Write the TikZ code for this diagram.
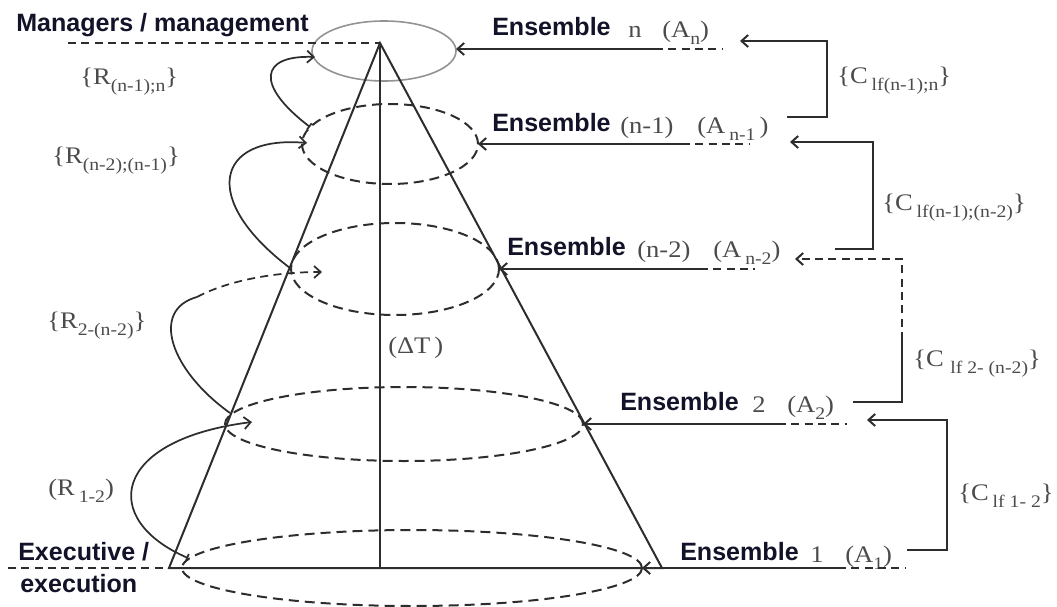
\documentclass[tikz,border=0pt]{standalone}
\usepackage{fontspec}
\usetikzlibrary{arrows.meta, shapes.geometric}
\newfontfamily\headfont{Liberation Sans}
\newfontfamily\lblfont[FakeStretch=1.12]{Liberation Serif}
\definecolor{inkline}{RGB}{45,45,45}
\definecolor{inktext}{RGB}{75,75,75}
\definecolor{inkhead}{RGB}{18,18,40}
\newcommand{\idx}[1]{\raisebox{-0.3em}{\fontsize{13.2}{13.2}\selectfont #1}}

\begin{document}
\begin{tikzpicture}[x=0.75pt, y=-0.75pt,
    lid/.style={ellipse, draw=gray!85, line width=1.2pt, inner sep=0pt, outer sep=0pt},
    ring/.style={ellipse, draw=inkline, line width=1.5pt, dash pattern=on 7.5pt off 4.5pt, inner sep=0pt, outer sep=0pt},
    edge/.style={draw=inkline, line width=1.5pt},
    tail/.style={draw=inkline, line width=1.5pt, dash pattern=on 6pt off 4pt},
    link/.style={draw=inkline, line width=1.5pt, -{Straight Barb[length=5pt,width=9pt]}},
    hook/.style={draw=inkline, line width=1.3pt, {Bar[width=6pt]}-{Straight Barb[length=5pt,width=9pt]}},
    head/.style={font=\headfont\bfseries\fontsize{18.8}{22}\selectfont, text=inkhead, inner sep=0pt, anchor=base west},
    lbl/.style={font=\lblfont\fontsize{17.8}{20}\selectfont, text=inktext, inner sep=0pt, anchor=base west}
]
\useasboundingbox (0,0) rectangle (1057,607);

\node[lid, minimum width=108pt, minimum height=45pt] (top) at (384,51) {};
\node[ring, minimum width=132pt, minimum height=60pt] (rn1) at (390,144) {};
\node[ring, minimum width=156pt, minimum height=69pt] (rn2) at (395,269) {};
\node[ring, minimum width=268.5pt, minimum height=55.5pt] (r2) at (404,424) {};
\node[ring, minimum width=345pt, minimum height=57pt] (r1) at (412,568) {};

\coordinate (apex) at (380,43);
\coordinate (bl) at (169,568);
\coordinate (br) at (662,568);
\coordinate (mgl) at (68,43);
\coordinate (exl) at (8,568);
\draw[edge] (bl) -- (apex) -- (br) -- cycle;
\draw[edge] (apex) -- (apex |- bl);
\draw[tail] (mgl) -- (apex);
\draw[tail] (exl) -- (bl);

\node[head] (mgmt) at (16,31) {Managers / management};
\node[head] (exec) at (18,560) {Executive /};
\node[head] (execb) at (20,592) {execution};

\node[head] (en) at (492,35) {Ensemble};
\node[lbl] (nn) at (628,37) {n};
\node[lbl] (an) at (662,37) {(A\idx{n})};
\node[head] (en1) at (492,131) {Ensemble};
\node[lbl] (nn1) at (620,133) {(n-1)};
\node[lbl] (an1) at (697,133) {(A\,\idx{n-1}\,)};
\node[head] (en2) at (507,255) {Ensemble};
\node[lbl] (nn2) at (637,257) {(n-2)};
\node[lbl] (an2) at (713,257) {(A\,\idx{n-2})};
\node[head] (e2) at (620,410) {Ensemble};
\node[lbl] (n2) at (752,412) {2};
\node[lbl] (a2) at (787,412) {(A\idx{2})};
\node[head] (e1) at (680,560) {Ensemble};
\node[lbl] (n1) at (810,562) {1};
\node[lbl] (a1) at (845,562) {(A\idx{1})};

\coordinate (sn) at (655,49);   \coordinate (dn) at (723,49);
\coordinate (sn1) at (682,144); \coordinate (dn1) at (750,144);
\coordinate (sn2) at (700,269); \coordinate (dn2) at (755,269);
\coordinate (s2) at (778,424);  \coordinate (d2) at (847,424);
\coordinate (s1) at (838,568);  \coordinate (d1) at (905,568);
\draw[link] (sn) -- (sn -| top.east);
\draw[link] (sn1) -- (sn1 -| rn1.east);
\draw[link] (sn2) -- (sn2 -| rn2.east);
\draw[link] (s2) -- (s2 -| r2.east);
\draw[link] (s1) -- (s1 -| r1.east);
\draw[tail] (sn) -- (dn);
\draw[tail] (sn1) -- (dn1);
\draw[tail] (sn2) -- (dn2);
\draw[tail] (s2) -- (d2);
\draw[tail] (s1) -- (d1);

\coordinate (ca) at (787,117); \coordinate (cat) at (740,41);
\coordinate (cb) at (835,249); \coordinate (cbt) at (790,142);
\coordinate (cc) at (853,402); \coordinate (cct) at (795,259);
\coordinate (cd) at (907,550); \coordinate (cdt) at (867,420);
\draw[link] (ca) -- ++(40,0) |- (cat);
\draw[link] (cb) -- ++(38,0) |- (cbt);
\draw[edge] (cc) -- ++(49,0) -- ++(0,-62) coordinate (ccd);
\draw[link, dash pattern=on 6pt off 4pt] (ccd) |- (cct);
\draw[link] (cd) -- ++(40,0) |- (cdt);

\node[lbl] (cl1) at (837,83) {\{C\,\idx{lf(n-1);n}\}};
\node[lbl] (cl2) at (882,210) {\{C\,\idx{lf(n-1);(n-2)}\}};
\node[lbl] (cl3) at (913,366) {\{C\;\idx{lf 2- (n-2)}\}};
\node[lbl] (cl4) at (958,500) {\{C\,\idx{lf 1- 2}\}};

\coordinate (ra0) at (310,127); \coordinate (ra1) at (315,57);
\coordinate (rb0) at (290,268); \coordinate (rb1) at (307,143);
\coordinate (rc0) at (230,413); \coordinate (rcm) at (197,297); \coordinate (rc1) at (322,272);
\coordinate (rd0) at (188,558); \coordinate (rd1) at (252,422);
\draw[hook] (ra0) .. controls (255,85) and (260,55) .. (ra1);
\draw[link, line width=1.3pt] (rb0) .. controls (200,200) and (215,135) .. (rb1);
\draw[edge, line width=1.3pt] (rc0) .. controls (170,370) and (150,310) .. (rcm);
\draw[link, line width=1.3pt, dash pattern=on 6pt off 4pt] (rcm) .. controls (225,282) and (270,272) .. (rc1);
\draw[hook] (rd0) .. controls (100,520) and (110,440) .. (rd1);

\node[lbl] (ra) at (80,84) {\{R\idx{(n-1);n}\}};
\node[lbl] (rb) at (52,163) {\{R\idx{(n-2);(n-1)}\}};
\node[lbl] (rc) at (47,328) {\{R\idx{2-(n-2)}\}};
\node[lbl] (rd) at (48,495) {(R\,\idx{1-2})};
\node[lbl] (dt) at (388,353) {(ΔT\,)};

\end{tikzpicture}
\end{document}
